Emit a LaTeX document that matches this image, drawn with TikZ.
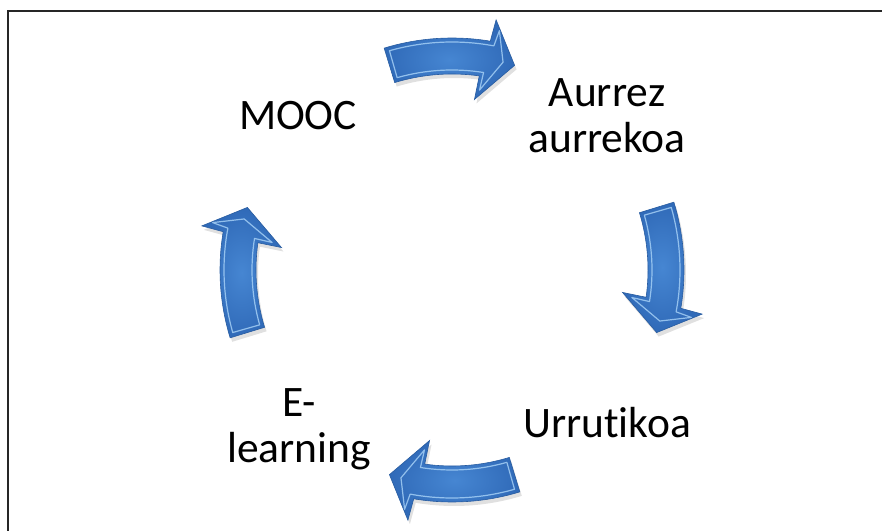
\documentclass[tikz,border=0pt]{standalone}
\usepackage{fontspec}
\setmainfont{Carlito}[Ligatures={NoCommon}]
\definecolor{arrin}{RGB}{70,134,210}
\definecolor{arrout}{RGB}{48,106,184}
\definecolor{arrhi}{RGB}{170,212,248}
\definecolor{arredge}{RGB}{40,92,160}
\begin{document}
\begin{tikzpicture}[x=1pt,y=1pt,
  lbl/.style={font=\fontsize{43.5}{46}\selectfont, align=center, inner sep=0pt, text=black},
  arrp/.style 2 args={insert path={
    ({#1+17-0.27*#2}:{232-#2})
    arc[start angle={#1+17-0.27*#2}, end angle={#1-9.5-0.27*#2}, radius={232-#2}]
    -- ({#1-10-0.3*#2}:{254-2.5*#2})
    -- ({#1-17+0.8*#2}:{214})
    -- ({#1-7.5-0.3*#2}:{172+2.5*#2})
    -- ({#1-8-0.27*#2}:{196+#2})
    arc[start angle={#1-8-0.27*#2}, end angle={#1+17-0.27*#2}, radius={196+#2}]
    -- cycle}}]
\useasboundingbox (0,0) rectangle (882,530);
\draw[line width=1.5pt, draw=black!85] (8,519) rectangle (900,-20);
\coordinate (C) at (452,260);
\foreach \a in {90,0,-90,180} {
  \fill[black, opacity=0.12, shift={(C)}, xshift=2pt, yshift=-4pt, arrp={\a}{0}];
  \shade[shift={(C)}, inner color=arrin, outer color=arrout, arrp={\a}{0}];
  \draw[shift={(C)}, draw=arredge, line width=0.6pt, arrp={\a}{0}];
  \draw[shift={(C)}, draw=arrhi, line width=1.2pt, opacity=0.8, line join=round, arrp={\a}{4}];
}
\node[lbl] (mooc) at (298,414) {MOOC};
\node[lbl] (aurrez) at (607,414) {Aurrez\\aurrekoa};
\node[lbl, anchor=base] (urru) at (607,93) {Urrutikoa};
\node[lbl] (elearn) at (299,101) {E-\\learning};
\end{tikzpicture}
\end{document}
